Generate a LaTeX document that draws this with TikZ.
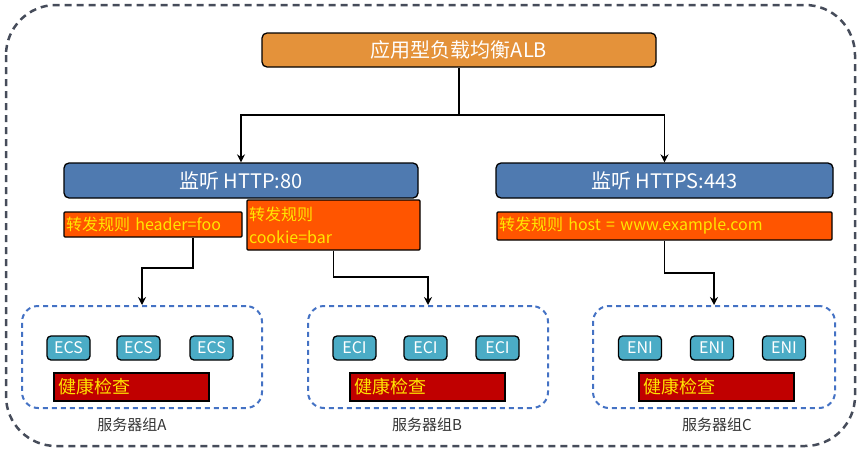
\documentclass[tikz,border=0pt]{standalone}
\usepackage{fontspec}
\setmainfont{Noto Sans CJK SC}
\usetikzlibrary{arrows.meta}
\definecolor{albor}{RGB}{228,146,58}
\definecolor{lsnblue}{RGB}{79,122,176}
\definecolor{ruleor}{RGB}{255,85,0}
\definecolor{ruletxt}{RGB}{255,230,0}
\definecolor{hcred}{RGB}{192,0,0}
\definecolor{srvblue}{RGB}{75,172,198}
\definecolor{grpblue}{RGB}{68,114,196}
\definecolor{outergray}{RGB}{70,76,90}
\begin{document}
\begin{tikzpicture}[
  x=1pt, y=-1pt,
  every node/.style={align=center, inner sep=0pt},
  frame/.style={draw=black, line width=1.3pt},
  albbox/.style={frame, rounded corners=5pt, fill=albor, text=white,
    minimum width=394pt, minimum height=34pt, font=\fontsize{20}{22}\selectfont},
  lsnbox/.style={frame, rounded corners=5pt, fill=lsnblue, text=white,
    minimum height=35pt, font=\fontsize{20}{22}\selectfont},
  rulebox/.style={frame, rounded corners=1pt, fill=ruleor, text=ruletxt,
    align=left, inner xsep=2pt, font=\fontsize{16}{23}\selectfont},
  srvbox/.style={frame, rounded corners=4pt, fill=srvblue, text=white,
    minimum width=43pt, minimum height=24pt, font=\fontsize{16}{18}\selectfont},
  hcbox/.style={frame, fill=hcred, text=ruletxt, align=left, inner xsep=4pt,
    text width=147pt, minimum height=28pt, font=\fontsize{18}{20}\selectfont},
  grpbox/.style={draw=grpblue, line width=2pt, dash pattern=on 5pt off 4pt,
    rounded corners=16pt, minimum width=240pt, minimum height=102pt},
  grplabel/.style={text=black!80, font=\fontsize{15}{18}\selectfont},
  link/.style={draw, line width=1.7pt, -{Stealth[length=8pt,width=8pt]}}
]
\useasboundingbox (0,0) rectangle (864,455);

% outer frame
\draw[outergray, line width=2.5pt, dash pattern=on 7pt off 5pt, rounded corners=50pt]
  (6,5) rectangle (855,446);

% load balancer and listeners
\node[albbox] (alb) at (459,50) {应用型负载均衡ALB};
\node[lsnbox, minimum width=354pt] (http) at (241,180.5) {监听 HTTP:80};
\node[lsnbox, minimum width=337pt] (https) at (664.5,180.5) {监听 HTTPS:443};

% forwarding rules
\node[rulebox, text width=174pt, minimum height=25pt] (rulea) at (153,224.5)
  {转发规则 header=foo};
\node[rulebox, text width=169pt, minimum height=50pt] (ruleb) at (333.5,225)
  {转发规则\\cookie=bar};
\node[rulebox, text width=331pt, minimum height=28pt] (rulec) at (664.5,226)
  {转发规则 host = www.example.com};

% server groups
\node[grpbox] (grpa) at (142,357) {};
\node[grpbox] (grpb) at (428,357) {};
\node[grpbox, minimum width=242pt] (grpc) at (714,357) {};

\node[srvbox] (ecsa) at (68.5,348) {ECS};
\node[srvbox] (ecsb) at (138.5,348) {ECS};
\node[srvbox] (ecsc) at (211.5,348) {ECS};
\node[srvbox] (ecia) at (354.5,348) {ECI};
\node[srvbox] (ecib) at (425.5,348) {ECI};
\node[srvbox] (ecic) at (497.5,348) {ECI};
\node[srvbox] (enia) at (640,348) {ENI};
\node[srvbox] (enib) at (712,348) {ENI};
\node[srvbox] (enic) at (784,348) {ENI};

\node[hcbox] (hca) at (131.5,387) {健康检查};
\node[hcbox] (hcb) at (427.5,387) {健康检查};
\node[hcbox] (hcc) at (716.5,387) {健康检查};

\node[grplabel] (lbla) at (132,425) {服务器组A};
\node[grplabel] (lblb) at (427,425) {服务器组B};
\node[grplabel] (lblc) at (717,425) {服务器组C};

% connectors
\draw[link] (alb.south) -- ++(0,47) -| (http.north);
\draw[link] (alb.south) -- ++(0,47) -| (https.north);
\draw[link] ([xshift=40pt]rulea.south) -- ++(0,30) -| (grpa.north);
\draw[link] (ruleb.south) -- ++(0,26) -| (grpb.north);
\draw[link] (rulec.south) -- ++(0,32) -| (grpc.north);
\end{tikzpicture}
\end{document}
